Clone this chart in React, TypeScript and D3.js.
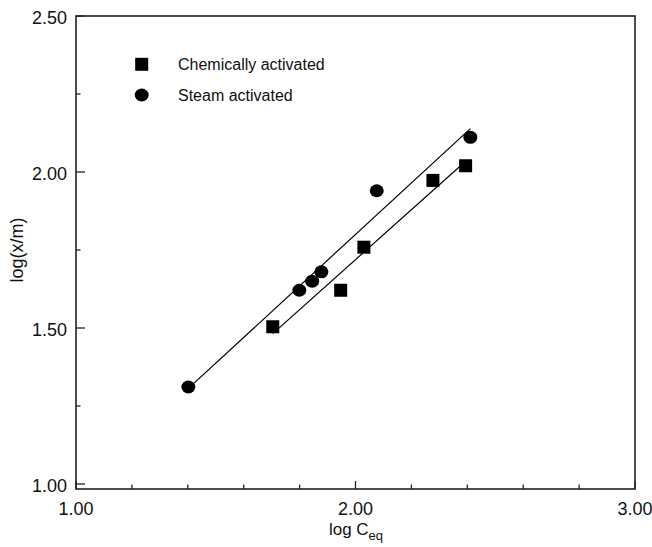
import React from "react";
import * as d3 from "d3";

// Chemically activated carbon: log Ceq vs log(x/m)
const chemX = [1.704, 1.947, 2.03, 2.277, 2.394];
const chemY = [1.504, 1.621, 1.759, 1.973, 2.02];
// Steam activated carbon
const steamX = [1.402, 1.799, 1.845, 1.878, 2.076, 2.411];
const steamY = [1.311, 1.621, 1.65, 1.68, 1.94, 2.111];

const xMajor = [1, 2, 3];
const xMinor = [1.2, 1.4, 1.6, 1.8, 2.2, 2.4, 2.6, 2.8];
const yMajor = [1, 1.5, 2, 2.5];
const yMinor = [1.25, 1.75, 2.25];
const legendLabels = ["Chemically activated", "Steam activated"];

const W = 652;
const H = 547;
const L = 76, R = 635, T = 16, B = 489;
const FONT = "'Liberation Sans', Arial, Helvetica, sans-serif";

function fit(xs: number[], ys: number[]) {
  const mx = d3.mean(xs)!;
  const my = d3.mean(ys)!;
  const sxy = d3.sum(xs, (x, i) => (x - mx) * (ys[i] - my));
  const sxx = d3.sum(xs, (x) => (x - mx) ** 2);
  const slope = sxy / sxx;
  const icpt = my - slope * mx;
  const [x0, x1] = d3.extent(xs) as [number, number];
  return [
    [x0, icpt + slope * x0],
    [x1, icpt + slope * x1],
  ] as [number, number][];
}

export default function App() {
  const x = d3.scaleLinear().domain([1, 3]).range([L, R]);
  const y = d3.scaleLinear().domain([0.984, 2.5]).range([B, T]);
  const line = d3
    .line<[number, number]>()
    .x((d) => x(d[0]))
    .y((d) => y(d[1]));

  const chemFit = fit(chemX, chemY);
  const steamFit = fit(steamX, steamY);
  const fmt = d3.format(".2f");

  return (
    <svg
      width={W}
      height={H}
      style={{ position: "absolute", left: 0, top: 0, background: "#fff" }}
      fontFamily={FONT}
    >
      <rect x={0} y={0} width={W} height={H} fill="#fff" />

      {/* fit lines */}
      <path d={line(steamFit)!} fill="none" stroke="#000" strokeWidth={1.2} />
      <path d={line(chemFit)!} fill="none" stroke="#000" strokeWidth={1.2} />

      {/* points */}
      {chemX.map((v, i) => (
        <rect
          key={"c" + i}
          x={x(v) - 6.5}
          y={y(chemY[i]) - 6.5}
          width={13}
          height={13}
          fill="#000"
        />
      ))}
      {steamX.map((v, i) => (
        <ellipse
          key={"s" + i}
          cx={x(v)}
          cy={y(steamY[i])}
          rx={7}
          ry={6.5}
          fill="#000"
        />
      ))}

      {/* frame */}
      <rect
        x={L}
        y={T}
        width={R - L}
        height={B - T}
        fill="none"
        stroke="#222"
        strokeWidth={1.6}
      />

      {/* x ticks */}
      {xMajor.map((v) => (
        <g key={"xm" + v}>
          <line x1={x(v)} x2={x(v)} y1={B} y2={B - 8} stroke="#222" strokeWidth={1.3} />
          <text x={x(v)} y={515} fontSize={18} textAnchor="middle" fill="#111">
            {fmt(v)}
          </text>
        </g>
      ))}
      {xMinor.map((v) => (
        <line key={"xn" + v} x1={x(v)} x2={x(v)} y1={B} y2={B - 4.5} stroke="#222" strokeWidth={1.3} />
      ))}

      {/* y ticks */}
      {yMajor.map((v) => (
        <g key={"ym" + v}>
          <line x1={L} x2={L + 9} y1={y(v)} y2={y(v)} stroke="#222" strokeWidth={1.3} />
          <text x={67} y={y(v) + 8} fontSize={18} textAnchor="end" fill="#111">
            {fmt(v)}
          </text>
        </g>
      ))}
      {yMinor.map((v) => (
        <line key={"yn" + v} x1={L} x2={L + 4.5} y1={y(v)} y2={y(v)} stroke="#222" strokeWidth={1.3} />
      ))}

      {/* axis titles */}
      <text x={356} y={535} fontSize={17} textAnchor="middle" fill="#111">
        log C<tspan fontSize={13} dy={5}>eq</tspan>
      </text>
      <text
        transform={`translate(23, 250) rotate(-90)`}
        fontSize={18}
        textAnchor="middle"
        fill="#111"
      >
        log(x/m)
      </text>

      {/* legend */}
      <rect x={135.2} y={57.8} width={13} height={13} fill="#000" />
      <ellipse cx={141.7} cy={95} rx={7} ry={6.5} fill="#000" />
      <text x={178} y={69.5} fontSize={16} fill="#111">
        {legendLabels[0]}
      </text>
      <text x={178} y={100.5} fontSize={16} fill="#111">
        {legendLabels[1]}
      </text>
    </svg>
  );
}
